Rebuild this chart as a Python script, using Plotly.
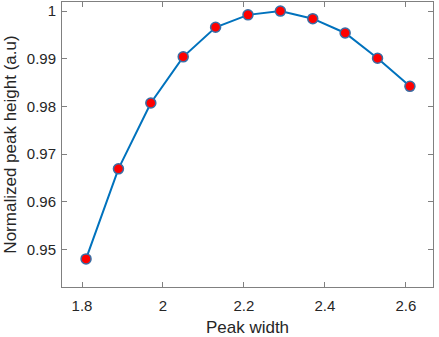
import plotly.graph_objects as go

peak_width = [1.81, 1.89, 1.97, 2.05, 2.13, 2.21, 2.29, 2.37, 2.45, 2.53, 2.61]
peak_height = [0.9480, 0.9669, 0.9807, 0.9904, 0.9966, 0.9992, 1.0000, 0.9984, 0.9954, 0.9901, 0.9842]
x_ticks = [1.8, 2.0, 2.2, 2.4, 2.6]
x_tick_labels = ["1.8", "2", "2.2", "2.4", "2.6"]
y_ticks = [0.95, 0.96, 0.97, 0.98, 0.99, 1.0]
y_tick_labels = ["0.95", "0.96", "0.97", "0.98", "0.99", "1"]

font_family = "Liberation Sans, Arial, sans-serif"
axis_color = "#808080"
text_color = "#262626"

fig = go.Figure()
fig.add_trace(go.Scatter(
    x=peak_width, y=peak_height, mode="lines+markers",
    line=dict(color="#0072BD", width=2),
    marker=dict(size=10, color="#FF0000", line=dict(color="#3A6EA5", width=1.5)),
    showlegend=False,
))

axis_common = dict(
    showline=True, linecolor=axis_color, linewidth=1, mirror="ticks",
    ticks="inside", ticklen=5, tickcolor=axis_color, tickwidth=1,
    showgrid=False, zeroline=False,
    tickfont=dict(family=font_family, size=15, color=text_color),
)

fig.update_layout(
    width=439, height=337,
    margin=dict(l=62, r=6, t=2, b=50),
    paper_bgcolor="white", plot_bgcolor="white",
    xaxis=dict(range=[1.7506, 2.667], tickvals=x_ticks, ticktext=x_tick_labels,
               ticklabelstandoff=5,
               title=dict(text="Peak width", standoff=8,
                          font=dict(family=font_family, size=17, color=text_color)),
               **axis_common),
    yaxis=dict(range=[0.9421, 1.0019], tickvals=y_ticks, ticktext=y_tick_labels,
               ticklabelstandoff=2,
               title=dict(text="Normalized peak height (a.u)", standoff=5,
                          font=dict(family=font_family, size=17, color=text_color)),
               **axis_common),
)

fig.write_html("out.html")
